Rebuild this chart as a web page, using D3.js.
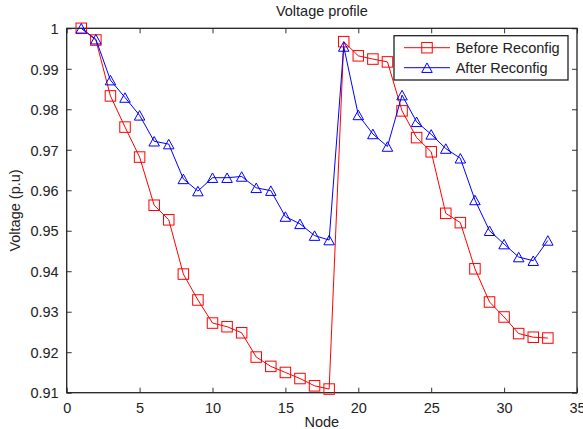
<!DOCTYPE html>
<html><head><meta charset="utf-8">
<script src="https://cdn.jsdelivr.net/npm/d3@7"></script>
<style>
body{margin:0;background:#fff;}
svg{display:block;font-family:"Liberation Sans",Arial,sans-serif;}
</style></head><body>
<svg id="c" width="583" height="429"></svg>
<script>
const nodes = d3.range(1, 34);
const before = [1.0,0.9971,0.9833,0.9756,0.9682,0.9563,0.9527,0.9393,0.9329,0.9272,0.9263,0.9248,0.9188,0.9165,0.9150,0.9135,0.9117,0.9109,
  0.9967,0.9932,0.9924,0.9917,0.9796,0.9730,0.9695,0.9543,0.9520,0.9406,0.9324,0.9287,0.9246,0.9237,0.9235];
const after = [1.0,0.9973,0.9872,0.9829,0.9785,0.9721,0.9714,0.9628,0.9598,0.9631,0.9631,0.9634,0.9606,0.9599,0.9535,0.9517,0.9488,0.9477,
  0.9955,0.9786,0.9739,0.9708,0.9835,0.9769,0.9738,0.9703,0.9679,0.9576,0.9500,0.9467,0.9435,0.9426,0.9476];
const xTicks = [0,5,10,15,20,25,30,35];
const yTicks = [0.91,0.92,0.93,0.94,0.95,0.96,0.97,0.98,0.99,1];
const seriesNames = ["Before Reconfig","After Reconfig"];
const colors = ["#ff0000","#0000ff"];

const L=66.7, R=577, T=28.3, B=392.7;
const svg = d3.select("#c");
const x = d3.scaleLinear().domain([0,35]).range([L,R]);
const y = d3.scaleLinear().domain([0.91,1]).range([B,T]);
const fs = "14.5px";

// axes (ticks inward)
const gx = svg.append("g").attr("transform",`translate(0,${B})`)
  .call(d3.axisBottom(x).tickValues(xTicks).tickSize(-5).tickPadding(10).tickFormat(d3.format("d")));
const gxt = svg.append("g").attr("transform",`translate(0,${T})`)
  .call(d3.axisTop(x).tickValues(xTicks).tickSize(-5).tickFormat(""));
const gy = svg.append("g").attr("transform",`translate(${L},0)`)
  .call(d3.axisLeft(y).tickValues(yTicks).tickSize(-5).tickPadding(8).tickFormat(d=>d===1?"1":d3.format(".2f")(d)));
const gyr = svg.append("g").attr("transform",`translate(${R},0)`)
  .call(d3.axisRight(y).tickValues(yTicks).tickSize(-5).tickFormat(""));
[gx,gxt,gy,gyr].forEach(g=>{
  g.select(".domain").remove();
  g.selectAll(".tick line").attr("stroke","#333").attr("stroke-width",1);
  g.selectAll("text").attr("font-size",fs).attr("fill","#222").attr("font-family","Liberation Sans, Arial, sans-serif");
});
gy.selectAll("text").attr("dy","0.36em");

// frame
svg.append("rect").attr("x",L).attr("y",T).attr("width",R-L).attr("height",B-T)
  .attr("fill","none").attr("stroke","#222").attr("stroke-width",1.3);

const line = d3.line().x((d,i)=>x(nodes[i])).y(d=>y(d));
const sq = 10.5;
function square(g, cx, cy, col){
  g.append("rect").attr("x",cx-sq/2).attr("y",cy-sq/2).attr("width",sq).attr("height",sq)
   .attr("fill","none").attr("stroke",col).attr("stroke-width",1);
}
function tri(g, cx, cy, col){
  const w=10.5,h=9.5;
  g.append("path").attr("d",`M${cx},${cy-h/2}L${cx+w/2},${cy+h/2}L${cx-w/2},${cy+h/2}Z`)
   .attr("fill","none").attr("stroke",col).attr("stroke-width",1);
}
const data=[before,after];
const markers=[square,tri];
data.forEach((s,k)=>{
  const g=svg.append("g");
  g.append("path").datum(s).attr("d",line).attr("fill","none").attr("stroke",colors[k]).attr("stroke-width",1);
  s.forEach((v,i)=>markers[k](g,x(nodes[i]),y(v),colors[k]));
});

// title & labels
svg.append("text").attr("x",(L+R)/2).attr("y",16).attr("text-anchor","middle").attr("font-size",fs).attr("fill","#222").text("Voltage profile");
svg.append("text").attr("x",(L+R)/2).attr("y",427).attr("text-anchor","middle").attr("font-size",fs).attr("fill","#222").text("Node");
svg.append("text").attr("transform",`translate(20,${(T+B)/2}) rotate(-90)`).attr("text-anchor","middle").attr("font-size",fs).attr("fill","#222").text("Voltage (p.u)");

// legend
const lg=svg.append("g");
lg.append("rect").attr("x",394).attr("y",35.7).attr("width",174).attr("height",44.3).attr("fill","#fff").attr("stroke","#222").attr("stroke-width",1.3);
seriesNames.forEach((n,k)=>{
  const yy=47.7+k*20;
  lg.append("line").attr("x1",404).attr("x2",450).attr("y1",yy).attr("y2",yy).attr("stroke",colors[k]).attr("stroke-width",1);
  markers[k](lg,427,yy,colors[k]);
  lg.append("text").attr("x",455.7).attr("y",yy+5.5).attr("font-size",fs).attr("fill","#222").text(n);
});
</script>
</body></html>
